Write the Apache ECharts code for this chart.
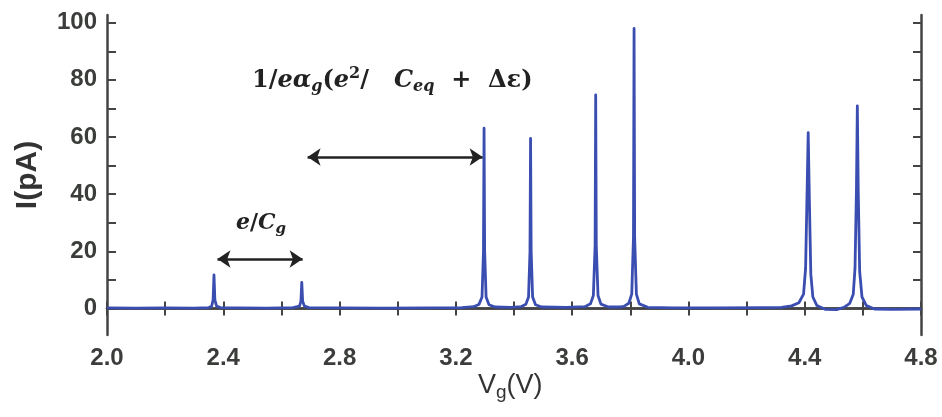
<!DOCTYPE html>
<html>
<head>
<meta charset="utf-8">
<script src="https://cdn.jsdelivr.net/npm/echarts@6/dist/echarts.min.js"></script>
<style>
  html, body { margin: 0; padding: 0; background: #fff; }
  #chart { width: 942px; height: 417px; }
</style>
</head>
<body>
<div id="chart"></div>
<script>
const vg = [
  2.00, 2.10, 2.20, 2.30, 2.350,
  2.360, 2.365, 2.368, 2.371, 2.377, 2.390,
  2.45, 2.55, 2.640,
  2.662, 2.667, 2.670, 2.673, 2.679, 2.695,
  2.80, 2.95, 3.10, 3.220,
  3.262, 3.280, 3.290, 3.295, 3.297, 3.299, 3.304, 3.314, 3.335,
  3.390,
  3.424, 3.441, 3.450, 3.455, 3.457, 3.459, 3.464, 3.474, 3.495,
  3.580,
  3.644, 3.663, 3.673, 3.679, 3.681, 3.683, 3.689, 3.699, 3.725,
  3.765,
  3.778, 3.795, 3.805, 3.811, 3.813, 3.815, 3.821, 3.831, 3.860,
  3.95, 4.10, 4.25, 4.320,
  4.355, 4.380, 4.396, 4.403, 4.408, 4.412, 4.416, 4.421, 4.428, 4.442, 4.470,
  4.510,
  4.535, 4.555, 4.567, 4.573, 4.578, 4.581, 4.584, 4.589, 4.597, 4.612, 4.640,
  4.70, 4.80
];
const current = [
  0.2, 0.1, 0.2, 0.1, 0.3,
  0.8, 3.0, 11.7, 3.0, 0.8, 0.3,
  0.2, 0.1, 0.3,
  0.8, 2.5, 9.1, 2.5, 0.8, 0.3,
  0.2, 0.1, 0.2, 0.3,
  0.6, 1.5, 4.0, 20, 63.1, 20, 4.0, 1.3, 0.5,
  0.4,
  0.6, 1.5, 4.0, 20, 59.5, 20, 4.0, 1.3, 0.5,
  0.4,
  0.6, 1.6, 4.5, 22, 74.7, 22, 4.5, 1.5, 0.5,
  0.5,
  0.7, 1.8, 5.0, 25, 98.0, 25, 5.0, 1.6, 0.4,
  0.2, 0.2, 0.3, 0.4,
  0.9, 2.0, 5.0, 14, 40, 61.5, 38, 12, 4.0, 1.0, -0.3,
  -0.4,
  0.4, 1.8, 5.0, 14, 42, 70.9, 42, 13, 4.0, 1.0, -0.2,
  -0.3, -0.2
];

// axis ticks
const xTickStep = 0.2;
const yLabelValues = [0, 20, 40, 60, 80, 100];
const yTickValues = [0, 10, 20, 30, 40, 50, 60, 70, 80, 90, 100];

// double-headed arrows [x1, x2, y] in data units
const arrowShort = [2.380, 2.673, 17.3];
const arrowLong = [2.690, 3.292, 53.0];

const chart = echarts.init(document.getElementById('chart'));

const axisColor = '#444';
const labelStyle = {
  color: '#3a3d3a',
  fontFamily: 'Liberation Sans, Arial, sans-serif',
  fontWeight: 'bold',
  fontSize: 24
};

const arrowLine = (a) => [
  { coord: [a[0], a[2]] },
  { coord: [a[1], a[2]] }
];

const mathFont = 'DejaVu Serif';

const option = {
  animation: false,
  backgroundColor: '#fff',
  grid: { left: 107, right: 21, top: 15, bottom: 82 },
  xAxis: [
    {
      type: 'value',
      min: 2.0,
      max: 4.8,
      interval: xTickStep,
      position: 'bottom',
      axisLine: { show: true, lineStyle: { color: axisColor, width: 2.5 } },
      axisTick: { show: true, inside: true, length: 7, lineStyle: { color: axisColor, width: 2 } },
      splitLine: { show: false },
      axisLabel: {
        ...labelStyle,
        margin: 11,
        formatter: (v) => (Math.round(v * 10) % 4 === 0 ? v.toFixed(1) : '')
      }
    },
    {
      type: 'value',
      min: 2.0,
      max: 4.8,
      interval: xTickStep,
      position: 'top',
      axisLine: { show: true, lineStyle: { color: axisColor, width: 2.5 } },
      axisTick: { show: true, inside: true, length: 7, lineStyle: { color: axisColor, width: 2 } },
      splitLine: { show: false },
      axisLabel: { show: false }
    }
  ],
  yAxis: [
    {
      type: 'value',
      min: -9.3,
      max: 102.7,
      position: 'left',
      name: 'I(pA)',
      nameLocation: 'middle',
      nameGap: 64,
      nameTextStyle: {
        color: '#333',
        fontFamily: 'Liberation Sans, Arial, sans-serif',
        fontWeight: 'bold',
        fontSize: 30
      },
      axisLine: { show: true, lineStyle: { color: axisColor, width: 2.5 } },
      axisTick: { show: true, inside: true, length: 9, customValues: yTickValues, lineStyle: { color: axisColor, width: 2 } },
      splitLine: { show: false },
      axisLabel: { ...labelStyle, margin: 10, customValues: yLabelValues }
    },
    {
      type: 'value',
      min: -9.3,
      max: 102.7,
      position: 'right',
      axisLine: { show: true, lineStyle: { color: axisColor, width: 2.5 } },
      axisTick: { show: true, inside: true, length: 8, customValues: yTickValues, lineStyle: { color: axisColor, width: 2 } },
      splitLine: { show: false },
      axisLabel: { show: false }
    }
  ],
  series: [
    {
      type: 'line',
      xAxisIndex: 0,
      yAxisIndex: 0,
      data: vg.map((v, i) => [v, current[i]]),
      showSymbol: false,
      symbol: 'none',
      lineStyle: { color: '#3a4db0', width: 2.8, join: 'round' },
      silent: true,
      markLine: {
        silent: true,
        symbol: ['arrow', 'arrow'],
        symbolSize: 13,
        label: { show: false },
        lineStyle: { color: '#222', width: 2.5, type: 'solid' },
        emphasis: { disabled: true },
        data: [arrowLine(arrowShort), arrowLine(arrowLong)]
      }
    }
  ],
  graphic: [
    {
      type: 'text',
      left: 478,
      top: 372,
      style: {
        text: '{a|V}{s|g}{a|(V)}',
        rich: {
          a: { fontFamily: 'Liberation Sans, Arial, sans-serif', fontSize: 27, fill: '#333' },
          s: { fontFamily: 'Liberation Sans, Arial, sans-serif', fontSize: 19, fill: '#333', padding: [14, 0, 0, 0] }
        }
      }
    },
    {
      type: 'text',
      left: 236,
      top: 212,
      style: {
        text: '{i|e}{n|/}{i|C}{s|g}',
        rich: {
          i: { fontFamily: mathFont, fontStyle: 'italic', fontWeight: 'bold', fontSize: 22, fill: '#222' },
          n: { fontFamily: mathFont, fontWeight: 'bold', fontSize: 22, fill: '#222' },
          s: { fontFamily: mathFont, fontStyle: 'italic', fontWeight: 'bold', fontSize: 15, fill: '#222', padding: [12, 0, 0, 0] }
        }
      }
    },
    {
      type: 'text',
      left: 252,
      top: 66,
      style: {
        text: '{n|1/}{i|eα}{s|g}{n|(}{i|e}{p|2}{n|/   }{i|C}{s|eq}{n|  +  Δε)}',
        rich: {
          i: { fontFamily: mathFont, fontStyle: 'italic', fontWeight: 'bold', fontSize: 24, fill: '#222' },
          n: { fontFamily: mathFont, fontWeight: 'bold', fontSize: 24, fill: '#222' },
          s: { fontFamily: mathFont, fontStyle: 'italic', fontWeight: 'bold', fontSize: 16, fill: '#222', padding: [13, 0, 0, 0] },
          p: { fontFamily: mathFont, fontWeight: 'bold', fontSize: 16, fill: '#222', padding: [0, 0, 13, 0] }
        }
      }
    }
  ]
};

chart.setOption(option);
</script>
</body>
</html>
